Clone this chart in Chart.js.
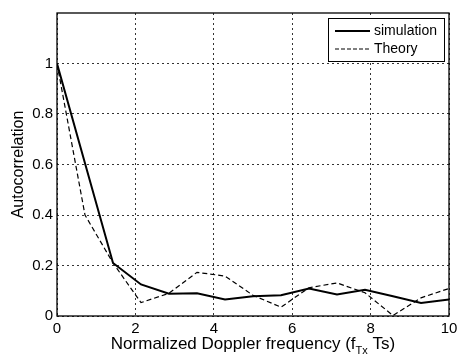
<!DOCTYPE html>
<html>
<head>
<meta charset="utf-8">
<script src="https://cdn.jsdelivr.net/npm/chart.js@4.4.1/dist/chart.umd.min.js"></script>
<style>
  html, body { margin: 0; padding: 0; background: #fff; }
  #wrap { width: 465px; height: 357px; }
</style>
</head>
<body>
<div id="wrap"><canvas id="chart" width="465" height="357"></canvas></div>
<script>
// normalized Doppler frequency samples (f_Tx Ts)
const freq = [0, 0.714, 1.429, 2.143, 2.857, 3.571, 4.286, 5.0, 5.714, 6.429, 7.143, 7.857, 8.571, 9.286, 10];
const simulation = [1.0, 0.605, 0.21, 0.125, 0.088, 0.09, 0.065, 0.078, 0.082, 0.109, 0.085, 0.104, 0.078, 0.052, 0.065];
const theory = [1.0, 0.40, 0.21, 0.053, 0.09, 0.173, 0.158, 0.082, 0.035, 0.112, 0.131, 0.092, 0.002, 0.072, 0.109];
const xTicks = [0, 2, 4, 6, 8, 10];
const yTicks = [0, 0.2, 0.4, 0.6, 0.8, 1];

const FONT = "'Liberation Sans', Arial, sans-serif";

function pts(ys) {
  return ys.map((y, i) => ({ x: freq[i], y: y }));
}

// legend box inside the top-right corner of the plot
const legendBox = {
  id: "legendBox",
  afterDatasetsDraw(chart) {
    const ctx = chart.ctx;
    const a = chart.chartArea;
    const w = 116, h = 43;
    const x0 = a.right - w - 5, y0 = a.top + 5;
    ctx.save();
    ctx.fillStyle = "#fff";
    ctx.fillRect(x0, y0, w, h);
    ctx.strokeStyle = "#000";
    ctx.lineWidth = 1;
    ctx.strokeRect(x0 + 0.5, y0 + 0.5, w, h);
    const items = [
      { label: "simulation", width: 2, dash: [] },
      { label: "Theory", width: 1.2, dash: [4, 2] }
    ];
    ctx.font = "14px " + FONT;
    ctx.textBaseline = "middle";
    ctx.fillStyle = "#000";
    items.forEach((it, i) => {
      const yy = y0 + 13 + i * 18;
      ctx.beginPath();
      ctx.setLineDash(it.dash);
      ctx.lineWidth = it.width;
      ctx.moveTo(x0 + 7, yy);
      ctx.lineTo(x0 + 42, yy);
      ctx.stroke();
      ctx.setLineDash([]);
      ctx.fillText(it.label, x0 + 46, yy);
    });
    ctx.restore();
  }
};

// frame around the plot and x-axis title with subscript
const frameAndTitle = {
  id: "frameAndTitle",
  afterDraw(chart) {
    const ctx = chart.ctx;
    const a = chart.chartArea;
    ctx.save();
    ctx.strokeStyle = "#000";
    ctx.lineWidth = 1.3;
    ctx.setLineDash([]);
    ctx.strokeRect(a.left, a.top, a.right - a.left, a.bottom - a.top);

    ctx.fillStyle = "#000";
    ctx.textBaseline = "alphabetic";
    const big = "17px " + FONT, small = "11px " + FONT;
    const p1 = "Normalized Doppler frequency (f", sub = "Tx", p2 = " Ts)";
    ctx.font = big;
    const w1 = ctx.measureText(p1).width, w3 = ctx.measureText(p2).width;
    ctx.font = small;
    const w2 = ctx.measureText(sub).width;
    let x = (a.left + a.right) / 2 - (w1 + w2 + w3) / 2;
    const base = 349;
    ctx.font = big;
    ctx.fillText(p1, x, base);
    x += w1;
    ctx.font = small;
    ctx.fillText(sub, x, base + 5);
    x += w2;
    ctx.font = big;
    ctx.fillText(p2, x, base);
    ctx.restore();
  }
};

const gridStyle = {
  color: "#000",
  lineWidth: 0.8,
  drawTicks: false
};

new Chart(document.getElementById("chart"), {
  type: "line",
  data: {
    datasets: [
      {
        label: "simulation",
        data: pts(simulation),
        borderColor: "#000",
        borderWidth: 2,
        pointRadius: 0,
        tension: 0,
        fill: false
      },
      {
        label: "Theory",
        data: pts(theory),
        borderColor: "#000",
        borderWidth: 1.2,
        borderDash: [5, 3],
        pointRadius: 0,
        tension: 0,
        fill: false
      }
    ]
  },
  options: {
    responsive: false,
    animation: false,
    layout: { padding: { top: 10, right: 16, left: 0, bottom: 0 } },
    plugins: {
      legend: { display: false },
      tooltip: { enabled: false }
    },
    scales: {
      x: {
        type: "linear",
        min: 0,
        max: 10,
        afterBuildTicks(axis) { axis.ticks = xTicks.map(v => ({ value: v })); },
        afterFit(axis) { axis.height = 41; },
        grid: gridStyle,
        border: { display: false, dash: [2, 3] },
        ticks: {
          color: "#000",
          font: { family: FONT, size: 15 },
          padding: 4,
          maxRotation: 0
        }
      },
      y: {
        min: 0,
        max: 1.2,
        afterBuildTicks(axis) { axis.ticks = yTicks.map(v => ({ value: v })); },
        afterFit(axis) { axis.width = 57; },
        grid: gridStyle,
        border: { display: false, dash: [2, 3] },
        title: {
          display: true,
          text: "Autocorrelation",
          color: "#000",
          font: { family: FONT, size: 16 },
          padding: { top: 9, bottom: 0 }
        },
        ticks: {
          color: "#000",
          font: { family: FONT, size: 15 },
          padding: 4,
          callback: v => String(Math.round(v * 10) / 10)
        }
      }
    }
  },
  plugins: [legendBox, frameAndTitle]
});
</script>
</body>
</html>
